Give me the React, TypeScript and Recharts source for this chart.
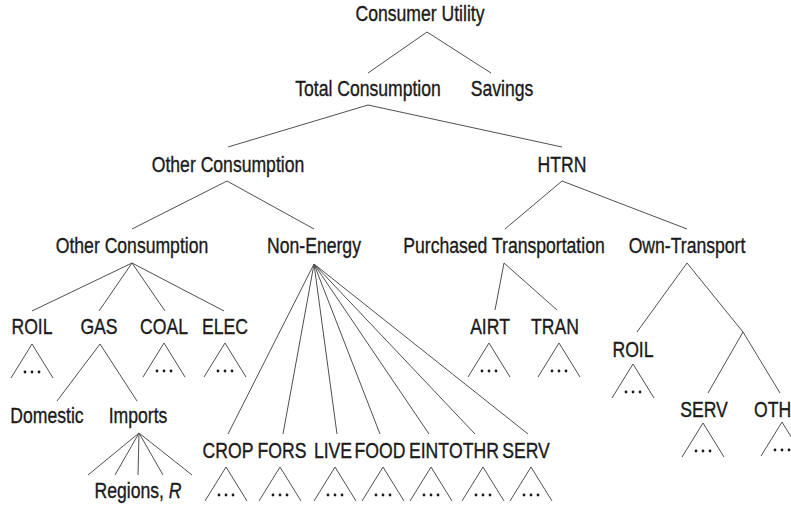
import { ReferenceLine, Scatter, ScatterChart, XAxis, YAxis } from "recharts";

const W = 791;
const H = 506;
const INK = "#1a1a1a";
const LINE = "#505050";
const FONT = "'Liberation Sans', Arial, sans-serif";
// the original uses a condensed grotesque; squeeze a regular sans to match
const SQUEEZE = 0.8;

// node labels: name, centre x, baseline y
const nodeNames = [
  "Consumer Utility", "Total Consumption", "Savings",
  "Other Consumption", "HTRN",
  "Other Consumption", "Non-Energy", "Purchased Transportation", "Own-Transport",
  "ROIL", "GAS", "COAL", "ELEC", "AIRT", "TRAN", "ROIL",
  "Domestic", "Imports", "SERV", "OTHR",
  "CROP", "FORS", "LIVE", "FOOD", "EINT", "OTHR", "SERV",
  "Regions, R",
];
const nodeX = [
  420, 368, 502,
  228, 562,
  132, 314, 504, 687,
  32, 99, 164, 225, 490, 555, 633,
  47, 138, 704, 779,
  228, 282, 333, 380, 429, 474, 526,
  138,
];
const nodeY = [
  21, 96, 96,
  172, 172,
  253, 253, 253, 253,
  334, 334, 334, 334, 334, 334, 357,
  423, 423, 417, 417,
  458, 458, 458, 458, 458, 458, 458,
  498,
];

// collapsed subtrees (apex of the "..." triangle)
const stubX = [32, 164, 225, 489, 559, 633, 703, 782, 226, 280, 335, 383, 431, 483, 531];
const stubY = [344, 343, 343, 343, 343, 364, 423, 422, 467, 467, 467, 467, 467, 467, 467];

// tree edges: x1, y1, x2, y2
const edges: [number, number, number, number][] = [
  [427, 32, 368, 73], [427, 32, 491, 73],
  [368, 105, 228, 147], [368, 105, 562, 147],
  [227, 181, 132, 229], [227, 181, 314, 229],
  [562, 181, 505, 229], [562, 181, 687, 229],
  [132, 263, 32, 311], [132, 263, 99, 311], [132, 263, 165, 311], [132, 263, 224, 311],
  [314, 264, 228, 434], [314, 264, 283, 434], [314, 264, 337, 434], [314, 264, 380, 434],
  [314, 264, 429, 434], [314, 264, 475, 434], [314, 264, 528, 434],
  [504, 263, 495, 310], [504, 263, 557, 310],
  [687, 263, 637, 332], [687, 263, 743, 332], [743, 332, 708, 393], [743, 332, 780, 393],
  [100, 344, 57, 401], [100, 344, 137, 401],
  [139, 433, 88, 475], [139, 433, 115, 475], [139, 433, 138, 475], [139, 433, 163, 475], [139, 433, 192, 475],
];

const nodes = nodeNames.map((name, i) => ({ name, x: nodeX[i], y: nodeY[i] }));
const stubs = stubX.map((x, i) => ({ x, y: stubY[i] }));

function NodeLabel(props: any) {
  const { cx, cy, payload } = props;
  const name: string = payload.name;
  const italicTail = name === "Regions, R";
  return (
    <text
      transform={`translate(${cx},${cy}) scale(${SQUEEZE},1)`}
      textAnchor="middle"
      fontFamily={FONT}
      fontSize={22}
      fill={INK}
      stroke={INK}
      strokeWidth={0.35}
    >
      {italicTail ? (
        <>
          Regions, <tspan fontStyle="italic">R</tspan>
        </>
      ) : (
        name
      )}
    </text>
  );
}

function Stub(props: any) {
  const { cx, cy } = props;
  const hw = 21;
  const h = 34;
  return (
    <g>
      <path
        d={`M${cx - hw},${cy + h} L${cx},${cy} L${cx + hw},${cy + h}`}
        fill="none"
        stroke={LINE}
        strokeWidth={1}
      />
      {[-7, 0, 7].map((dx) => (
        <circle key={dx} cx={cx + dx} cy={cy + h - 6} r={1.4} fill={INK} />
      ))}
    </g>
  );
}

export default function App() {
  return (
    <div style={{ position: "absolute", left: 0, top: 0, background: "#fff" }}>
      <ScatterChart width={W} height={H} margin={{ top: 0, right: 0, bottom: 0, left: 0 }}>
        <XAxis type="number" dataKey="x" domain={[0, W]} hide allowDataOverflow />
        <YAxis type="number" dataKey="y" domain={[0, H]} reversed hide allowDataOverflow />
        {edges.map(([x1, y1, x2, y2], i) => (
          <ReferenceLine
            key={i}
            segment={[{ x: x1, y: y1 }, { x: x2, y: y2 }]}
            stroke={LINE}
            strokeWidth={1}
            ifOverflow="visible"
          />
        ))}
        <Scatter data={stubs} shape={Stub} isAnimationActive={false} />
        <Scatter data={nodes} shape={NodeLabel} isAnimationActive={false} />
      </ScatterChart>
    </div>
  );
}
